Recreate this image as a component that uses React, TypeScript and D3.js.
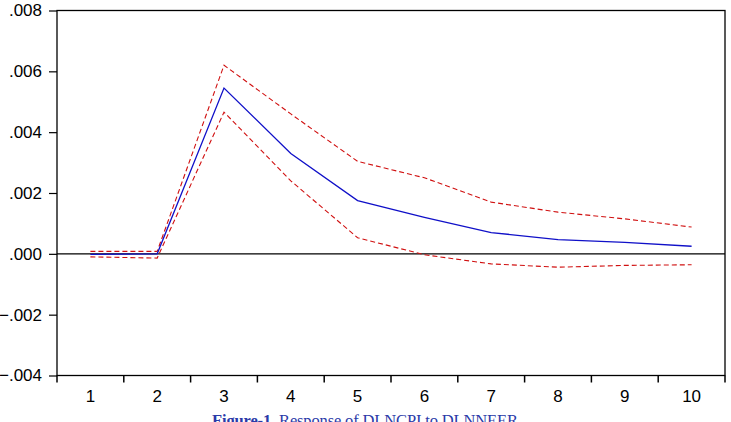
import { useEffect, useRef } from 'react'
import * as d3 from 'd3'

// impulse response, periods 1..10
const periods = ['1', '2', '3', '4', '5', '6', '7', '8', '9', '10']
const response = [-0.00002, 0.0, 0.00545, 0.0033, 0.00175, 0.0012, 0.0007, 0.00047, 0.00038, 0.00025]
const upperBand = [0.00008, 0.00008, 0.0062, 0.0046, 0.00304, 0.0025, 0.0017, 0.00137, 0.00115, 0.00088]
const lowerBand = [-0.0001, -0.00014, 0.00466, 0.0024, 0.00053, -0.00003, -0.00033, -0.00044, -0.00038, -0.00036]
const yTicks = [-0.004, -0.002, 0, 0.002, 0.004, 0.006, 0.008]

const W = 731
const H = 422

export default function App() {
  const svgRef = useRef<SVGSVGElement>(null)

  useEffect(() => {
    const svg = d3.select(svgRef.current)
    svg.selectAll('*').remove()

    const margin = { top: 10.5, right: 6, bottom: 46.5, left: 57 }
    const x = d3.scaleBand().domain(periods).range([margin.left, W - margin.right])
    const y = d3.scaleLinear().domain([-0.004, 0.008]).range([H - margin.bottom, margin.top])
    const cx = (i: number) => (x(periods[i]) as number) + x.bandwidth() / 2

    svg.append('rect')
      .attr('width', W).attr('height', H).attr('fill', '#fff')

    // frame
    svg.append('rect')
      .attr('x', margin.left).attr('y', margin.top)
      .attr('width', W - margin.left - margin.right)
      .attr('height', H - margin.top - margin.bottom)
      .attr('fill', 'none').attr('stroke', '#000').attr('stroke-width', 1.3)

    // y axis
    const fmt = (d: number) => d3.format('.3f')(d).replace('0.', '.')
    const yAxis = svg.append('g')
      .attr('transform', `translate(${margin.left},0)`)
      .call(d3.axisLeft(y).tickValues(yTicks).tickSize(8).tickPadding(7).tickFormat(d => fmt(+d)))
    yAxis.select('.domain').remove()
    yAxis.selectAll('line').attr('stroke-width', 1.2)
    yAxis.selectAll('text')
      .attr('font-family', 'Liberation Sans, Arial, sans-serif')
      .attr('font-size', 17).attr('fill', '#000')

    // x axis: ticks at band edges, labels centred
    const edges = periods.map(p => x(p) as number).concat([W - margin.right])
    svg.append('g').selectAll('line').data(edges).enter().append('line')
      .attr('x1', d => d).attr('x2', d => d)
      .attr('y1', H - margin.bottom).attr('y2', H - margin.bottom + 7)
      .attr('stroke', '#000').attr('stroke-width', 1.5)
    svg.append('g').selectAll('text').data(periods).enter().append('text')
      .attr('x', d => (x(d) as number) + x.bandwidth() / 2)
      .attr('y', 402)
      .attr('text-anchor', 'middle')
      .attr('font-family', 'Liberation Sans, Arial, sans-serif')
      .attr('font-size', 17).attr('fill', '#000')
      .text(d => d)

    // zero line
    svg.append('line')
      .attr('x1', margin.left).attr('x2', W - margin.right)
      .attr('y1', y(0)).attr('y2', y(0))
      .attr('stroke', '#000').attr('stroke-width', 1.2)

    const line = d3.line<number>().x((_, i) => cx(i)).y(d => y(d))

    svg.append('path').datum(upperBand).attr('d', line)
      .attr('fill', 'none').attr('stroke', '#d01010').attr('stroke-width', 1.1)
      .attr('stroke-dasharray', '5,3')
    svg.append('path').datum(lowerBand).attr('d', line)
      .attr('fill', 'none').attr('stroke', '#d01010').attr('stroke-width', 1.1)
      .attr('stroke-dasharray', '5,3')
    svg.append('path').datum(response).attr('d', line)
      .attr('fill', 'none').attr('stroke', '#1010c8').attr('stroke-width', 1.3)

    // caption (cut by the bottom edge, as in the source)
    const cap = svg.append('text')
      .attr('x', 212).attr('y', 426)
      .attr('font-family', 'Liberation Serif, Times New Roman, serif')
      .attr('font-size', 16.5).attr('fill', '#2b3aa8')
      .attr('textLength', 306).attr('lengthAdjust', 'spacing')
    cap.append('tspan').attr('font-weight', 'bold').text('Figure-1.')
    cap.append('tspan').text(' Response of DLNCPI to DLNNEER')
  }, [])

  return (
    <svg ref={svgRef} width={W} height={H}
      style={{ position: 'absolute', left: 0, top: 0, display: 'block' }} />
  )
}
